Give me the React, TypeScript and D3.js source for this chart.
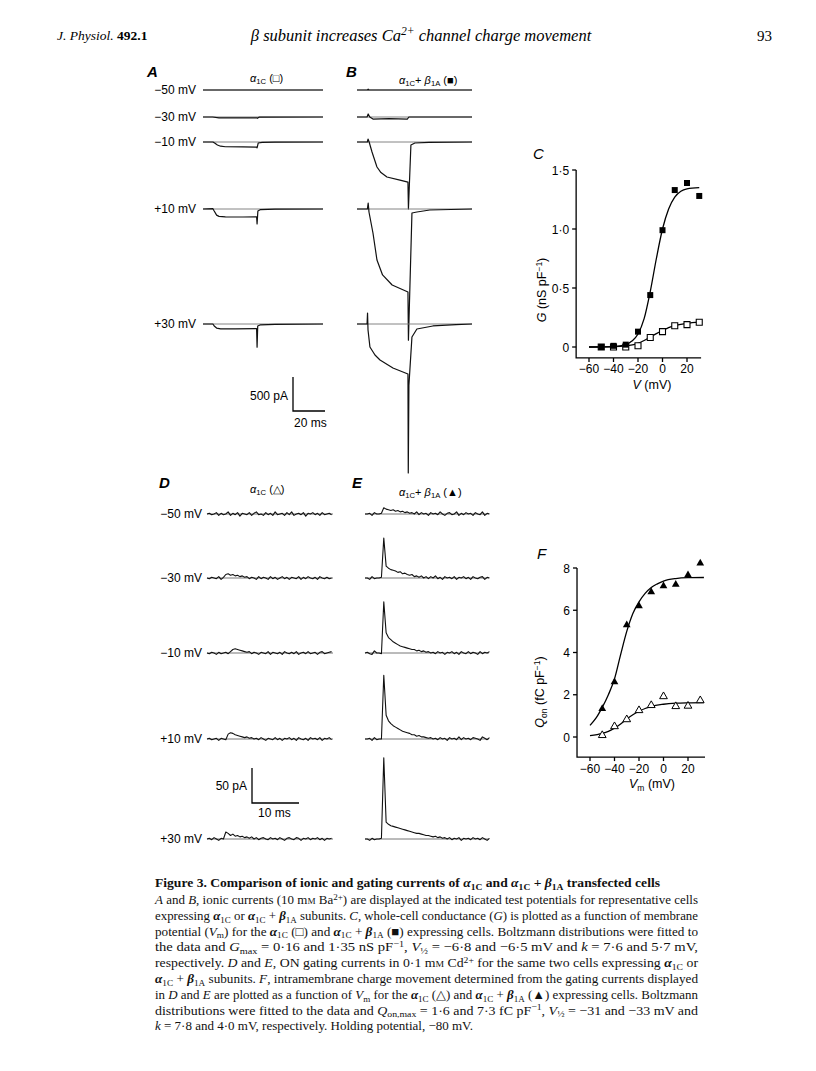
import * as d3 from "d3";

const SANS = "'Liberation Sans', Arial, Helvetica, sans-serif";
const SERIF = "'Liberation Serif', 'Times New Roman', serif";

// ---------- panels A & B: ionic currents, [time ms, current pA] ----------
const rowLabels = ["−50 mV", "−30 mV", "−10 mV", "+10 mV", "+30 mV"];

const ionicA: [number, number][][] = [
  [[0, 0], [75, 0]],
  [[0, 0], [6, 0], [10, -12], [33.5, -12], [34, -20], [35, -3], [75, 0]],
  [[0, 0], [6.2, 0], [7.5, -20], [9, -45], [11, -62], [14, -70], [25, -72], [33.5, -75], [33.8, -85], [34.5, -15], [37, -5], [45, -2], [75, 0]],
  [[0, 0], [6.2, 5], [7, -30], [8.5, -90], [10, -108], [14, -115], [25, -118], [33.5, -115], [33.8, -220], [34.3, -30], [36, -8], [45, -3], [75, 0]],
  [[0, 0], [6.2, 0], [7, -30], [8.5, -60], [11, -72], [20, -72], [33.5, -68], [33.8, -340], [34.2, -30], [36, -12], [45, -5], [75, 0]],
];

const ionicB: [number, number][][] = [
  [[0, 0], [6.5, 0], [7, 12], [7.5, 0], [72, 0]],
  [[0, 0], [6.3, 0], [7, 45], [8, 0], [10, -30], [20, -25], [31.5, -30], [32.5, 0], [72, 0]],
  [[0, 0], [6.5, 0], [6.9, 44], [7.6, 0], [9.4, -147], [12.5, -368], [15, -450], [18.75, -515], [26.9, -560], [31.9, -590], [32.2, -985], [33.75, -44], [36.25, -15], [45, -5], [72, 0]],
  [[0, 0], [6.5, 0], [7, 88], [7.5, -44], [10, -353], [12.5, -750], [16, -970], [22, -1118], [31.9, -1220], [32.2, -1930], [34.4, -59], [37.5, -44], [45.6, -15], [72, 0]],
  [[0, 0], [6.3, 0], [6.6, 162], [6.9, -88], [8.1, -338], [11.25, -456], [14.4, -530], [22.5, -647], [31.9, -735], [32.1, -2190], [32.5, -900], [34.4, -191], [37.5, -74], [47.5, -29], [62, -10], [72, 0]],
];

// ---------- panels D & E: gating currents, pA sampled every 0.5 ms ----------
const GATE_DT = 0.5;
const gatingD: number[][] = [
  [0, 1, -1, 0, 2, -2, 1, -1, 0, 3, -2, 1, -1, 2, -3, 1, 0, -1, 2, -2, 1, 3, -1, 0, -2, 2, -1, 1, -2, 3, -1, 0, 1, -2, 2, -1, 3, -2, 0, 1, -1, 2, -3, 1, 0, 2, -1, 1, -2, 2, -1, 0, 1, -1],
  [0, -1, 1, 0, -1, 2, -2, 1, 5, 6, 4, 5, 3, 4, 2, 3, 1, 2, -1, 1, 0, -2, 2, -1, 1, 0, -2, 2, -1, 1, -2, 0, 2, -1, 1, -2, 1, 0, -1, 2, -2, 1, -1, 2, 0, -1, 1, -2, 2, 0, -1, 1, -1, 0],
  [0, -1, 1, 0, -2, 1, -1, 0, 1, -1, 2, 5, 6, 5, 4, 3, 2, 1, 2, -1, 1, 0, -2, 1, 0, -1, 2, -2, 1, 0, -1, 1, -2, 2, 0, -1, 1, -1, 2, -2, 0, 1, -1, 2, -1, 0, 1, -2, 1, 2, -1, 0, 1, 2],
  [0, 1, -1, 0, 1, -2, 1, 0, -1, 7, 9, 8, 6, 5, 4, 3, 2, 3, 1, 2, 0, 1, -1, 2, 0, -2, 1, 0, -1, 2, -1, 1, -2, 1, 0, 2, -1, 1, -2, 2, 0, -1, 1, -2, 2, 0, 1, -1, 2, -2, 1, 0, 2, -1],
  [0, 1, -1, 2, 0, -2, 1, 0, 10, 8, 5, 7, 4, 5, 3, 4, 2, 3, 1, 3, 0, 2, -1, 1, 2, 0, -1, 2, 0, 1, -1, 2, 0, -2, 1, 2, 0, -1, 2, 1, -2, 1, 0, 2, -1, 1, 0, 2, -1, 1, -2, 1, 0, 1],
];
const gatingE: number[][] = [
  [0, 0, 1, -2, 2, 0, 0, 1, 9, 7, 6, 5, 6, 4, 5, 3, 4, 2, 3, 1, 2, 0, 3, -1, 2, 0, 1, -2, 2, 0, 1, -1, 3, 0, -2, 1, 2, -1, 0, 3, -2, 1, -1, 2, 0, 1, -2, 2, 0, -1, 3, -2, 1, 0],
  [0, 0, -2, 2, -1, 0, 0, 1, 57, 17, 14, 12, 11, 10, 8, 9, 6, 7, 5, 4, 5, 2, 3, 1, 3, 0, 2, -1, 2, 0, 3, -1, 1, -2, 2, 0, 1, -1, 2, -2, 1, 0, 2, -1, 1, -2, 2, 0, -1, 1, 2, -2, 1, 0],
  [0, 1, -1, -2, 3, 0, 0, -1, 73, 29, 22, 19, 16, 14, 12, 10, 9, 8, 7, 6, 5, 5, 3, 4, 2, 3, 1, 2, 0, 1, -1, 2, 0, 1, -2, 1, 0, 2, -1, 1, -2, 2, 0, -1, 2, -1, 1, 0, -2, 2, -1, 1, 0, 2],
  [0, 0, 1, -2, 2, -1, 0, 0, 91, 34, 26, 22, 19, 17, 15, 13, 11, 10, 9, 8, 6, 6, 4, 5, 3, 3, 2, 1, 2, 0, 1, -1, 2, 0, 1, -2, 2, 0, 1, -1, 3, -1, 2, 0, 1, -1, 2, 1, 0, -2, 3, 1, -1, 2],
  [0, 0, -2, 1, -1, 0, 0, 1, 116, 24, 21, 19, 18, 17, 16, 15, 14, 13, 12, 11, 10, 9, 8, 8, 7, 6, 5, 5, 4, 3, 4, 2, 3, 1, 2, 0, 2, -1, 1, 0, 2, -2, 1, 0, 1, -1, 2, 0, 1, -1, 2, 0, -2, 1],
];

// ---------- panel C: conductance ----------
const testVolts = [-50, -40, -30, -20, -10, 0, 10, 20, 30];
const gAlpha = [0, 0, 0, 0.01, 0.08, 0.13, 0.18, 0.19, 0.21];
const gAlphaBeta = [0, 0.01, 0.02, 0.13, 0.44, 0.99, 1.33, 1.39, 1.28];
const gFitAlpha: [number, number][] = [[-60, 0], [-40, 0.003], [-30, 0.01], [-20, 0.03], [-15, 0.055], [-10, 0.085], [-5, 0.113], [0, 0.14], [5, 0.165], [10, 0.182], [20, 0.2], [30, 0.21]];
const gFitAlphaBeta: [number, number][] = [[-60, 0], [-40, 0.004], [-30, 0.02], [-25, 0.05], [-20, 0.11], [-15, 0.24], [-10, 0.47], [-5, 0.75], [0, 1.0], [5, 1.17], [10, 1.27], [15, 1.32], [20, 1.34], [30, 1.35]];
const cXTicks = [-60, -40, -20, 0, 20];
const cYTicks = [0, 0.5, 1, 1.5];
const cYTickLabels = ["0", "0·5", "1·0", "1·5"];

// ---------- panel F: charge movement ----------
const qAlpha = [0.08, 0.5, 0.83, 1.26, 1.5, 1.92, 1.45, 1.47, 1.73];
const qAlphaBeta = [1.34, 2.6, 5.3, 6.2, 6.86, 7.15, 7.22, 7.67, 8.23];
const qFitAlpha: [number, number][] = [[-60, 0.06], [-50, 0.17], [-45, 0.27], [-40, 0.42], [-35, 0.62], [-30, 0.85], [-25, 1.05], [-20, 1.22], [-15, 1.35], [-10, 1.45], [0, 1.55], [10, 1.6], [20, 1.62], [33, 1.63]];
const qFitAlphaBeta: [number, number][] = [[-60, 0.55], [-55, 0.9], [-50, 1.4], [-45, 2.0], [-40, 2.75], [-35, 3.9], [-30, 5.0], [-25, 5.85], [-20, 6.4], [-15, 6.8], [-10, 7.08], [-5, 7.25], [0, 7.38], [10, 7.5], [20, 7.54], [33, 7.55]];
const fXTicks = [-60, -40, -20, 0, 20];
const fYTicks = [0, 2, 4, 6, 8];

// ---------- caption ----------
const captionTitle = "Figure 3. Comparison of ionic and gating currents of α_{1C} and α_{1C} + β_{1A} transfected cells";
const captionLines = [
  "*A* and *B*, ionic currents (10 m%{M} Ba^{2+}) are displayed at the indicated test potentials for representative cells",
  "expressing α_{1C} or α_{1C} + β_{1A} subunits. *C*, whole-cell conductance (*G*) is plotted as a function of membrane",
  "potential (*V*_{m}) for the α_{1C} (□) and α_{1C} + β_{1A} (■) expressing cells. Boltzmann distributions were fitted to",
  "the data and *G*_{max} = 0·16 and 1·35 nS pF^{−1}, *V*_{½} = −6·8 and −6·5 mV and *k* = 7·6 and 5·7 mV,",
  "respectively. *D* and *E*, ON gating currents in 0·1 m%{M} Cd^{2+} for the same two cells expressing α_{1C} or",
  "α_{1C} + β_{1A} subunits. *F*, intramembrane charge movement determined from the gating currents displayed",
  "in *D* and *E* are plotted as a function of *V*_{m} for the α_{1C} (△) and α_{1C} + β_{1A} (▲) expressing cells. Boltzmann",
  "distributions were fitted to the data and *Q*_{on,max} = 1·6 and 7·3 fC pF^{−1}, *V*_{½} = −31 and −33 mV and",
  "*k* = 7·8 and 4·0 mV, respectively. Holding potential, −80 mV.",
];

// layout
const ionicRowY = [90, 117, 142, 209, 324];
const gatingRowY = [514, 578, 653, 739, 839];

type Seg = { text: string; italic: boolean; shift?: "sub" | "sup"; small?: boolean; greek?: boolean };

// tiny markup: *italic*, _{sub}, ^{sup}, %{small}
function parseRich(s: string, baseItalic = false): Seg[] {
  const segs: Seg[] = [];
  let italic = baseItalic;
  let buf = "";
  const flush = () => {
    if (buf) segs.push({ text: buf, italic });
    buf = "";
  };
  for (let i = 0; i < s.length; i++) {
    const c = s[i];
    if (c === "*") { flush(); italic = !italic; continue; }
    if ((c === "_" || c === "^" || c === "%") && s[i + 1] === "{") {
      flush();
      const end = s.indexOf("}", i);
      segs.push({ text: s.slice(i + 2, end), italic: baseItalic, shift: c === "_" ? "sub" : c === "^" ? "sup" : undefined, small: true });
      i = end;
      continue;
    }
    if (c === "α" || c === "β") { flush(); segs.push({ text: c, italic: true, greek: true }); continue; }
    buf += c;
  }
  flush();
  return segs;
}

function Rich({ s, size, baseItalic = false, bold = false, greekBold = false }: { s: string; size: number; baseItalic?: boolean; bold?: boolean; greekBold?: boolean }) {
  const segs = parseRich(s, baseItalic);
  let cur = 0;
  return (
    <>
      {segs.map((g, k) => {
        const target = g.shift === "sub" ? size * 0.22 : g.shift === "sup" ? -size * 0.34 : 0;
        const dy = target - cur;
        cur = target;
        return (
          <tspan
            key={k}
            dy={dy || undefined}
            fontStyle={g.italic ? "italic" : "normal"}
            fontWeight={bold || (g.greek && greekBold) ? "bold" : "normal"}
            fontSize={g.small ? size * 0.7 : size}
          >
            {g.text}
          </tspan>
        );
      })}
    </>
  );
}

// ---------- scales ----------
const tA = d3.scaleLinear().domain([0, 75]).range([203, 323]);
const tB = d3.scaleLinear().domain([0, 72]).range([357, 472]);
const iAB = d3.scaleLinear().domain([0, -500]).range([0, 34]);
const tD = d3.scaleLinear().domain([0, 26.8]).range([207, 333]);
const tE = d3.scaleLinear().domain([0, 26.4]).range([365, 489]);
const iDE = d3.scaleLinear().domain([0, 50]).range([0, -35]);

const cx = d3.scaleLinear().domain([-60, 20]).range([589, 687]);
const cy = d3.scaleLinear().domain([0, 1.5]).range([347, 170]);
const fx = d3.scaleLinear().domain([-60, 20]).range([590, 688]);
const fy = d3.scaleLinear().domain([0, 8]).range([737, 568]);

const LABEL = 12;

function IonicPanel({ traces, t, labels }: { traces: [number, number][][]; t: d3.ScaleLinear<number, number>; labels: boolean }) {
  const [t0, t1] = t.domain();
  return (
    <g>
      {traces.map((tr, r) => {
        const base = ionicRowY[r];
        const line = d3.line<[number, number]>().x((d) => t(d[0])).y((d) => base + iAB(d[1]));
        return (
          <g key={r}>
            {labels && (
              <text x={196} y={base + 4} textAnchor="end" fontSize={LABEL} fontFamily={SANS}>{rowLabels[r]}</text>
            )}
            <line x1={t(t0)} x2={t(t1)} y1={base} y2={base} stroke="#777" strokeWidth={0.9} />
            <path d={line(tr) ?? ""} fill="none" stroke="#111" strokeWidth={1.2} strokeLinejoin="round" />
          </g>
        );
      })}
    </g>
  );
}

function GatingPanel({ traces, t, labels }: { traces: number[][]; t: d3.ScaleLinear<number, number>; labels: boolean }) {
  const [t0, t1] = t.domain();
  return (
    <g>
      {traces.map((tr, r) => {
        const base = gatingRowY[r];
        const line = d3.line<number>().x((_, i) => t(i * GATE_DT)).y((v) => base + iDE(v));
        return (
          <g key={r}>
            {labels && (
              <text x={202} y={base + 4} textAnchor="end" fontSize={LABEL} fontFamily={SANS}>{rowLabels[r]}</text>
            )}
            <line x1={t(t0)} x2={t(t1)} y1={base} y2={base} stroke="#666" strokeWidth={0.9} />
            <path d={line(tr) ?? ""} fill="none" stroke="#111" strokeWidth={1.1} strokeLinejoin="round" />
          </g>
        );
      })}
    </g>
  );
}

function Axes({ x, y, xMin, xMax, yMin, yMax, xTicks, yTicks, yTickLabels }: {
  x: d3.ScaleLinear<number, number>; y: d3.ScaleLinear<number, number>;
  xMin: number; xMax: number; yMin: number; yMax: number;
  xTicks: number[]; yTicks: number[]; yTickLabels: string[];
}) {
  const x0 = x(xMin), x1 = x(xMax), yb = y(yMin), yt = y(yMax);
  return (
    <g fontFamily={SANS} fontSize={LABEL}>
      <path d={`M${x0},${yt}V${yb}H${x1}`} fill="none" stroke="#000" strokeWidth={1.3} />
      {yTicks.map((v, i) => (
        <g key={"y" + i}>
          <line x1={x0 - 4} x2={x0} y1={y(v)} y2={y(v)} stroke="#000" strokeWidth={1.3} />
          <text x={x0 - 7} y={y(v) + 4.5} textAnchor="end">{yTickLabels[i]}</text>
        </g>
      ))}
      {xTicks.map((v, i) => (
        <g key={"x" + i}>
          <line x1={x(v)} x2={x(v)} y1={yb} y2={yb + 4} stroke="#000" strokeWidth={1.3} />
          <text x={x(v)} y={yb + 15.5} textAnchor="middle">{v < 0 ? "−" + Math.abs(v) : String(v)}</text>
        </g>
      ))}
    </g>
  );
}

export default function App() {
  const square = d3.symbol(d3.symbolSquare, 36)();
  const tri = d3.symbol(d3.symbolTriangle, 26)();
  const cLine = d3.line<[number, number]>().x((d) => cx(d[0])).y((d) => cy(d[1])).curve(d3.curveMonotoneX);
  const fLine = d3.line<[number, number]>().x((d) => fx(d[0])).y((d) => fy(d[1])).curve(d3.curveMonotoneX);
  const capLeft = 155, capRight = 698, capTop = 904, capStep = 15.8;

  return (
    <svg width={816} height={1071} style={{ position: "absolute", left: 0, top: 0, display: "block", background: "#fff" }}>
      {/* running head */}
      <text x={57} y={40} fontFamily={SERIF} fontSize={13.5} fontStyle="italic">
        J. Physiol. <tspan fontWeight="bold" fontStyle="normal">492.1</tspan>
      </text>
      <text x={421} y={41} textAnchor="middle" fontFamily={SERIF} fontSize={16.5}>
        <Rich s="β subunit increases Ca^{2+} channel charge movement" size={16.5} baseItalic />
      </text>
      <text x={772} y={41} textAnchor="end" fontFamily={SERIF} fontSize={15}>93</text>

      {/* A & B */}
      <g fontFamily={SANS}>
        <text x={147} y={77} fontSize={15} fontStyle="italic" fontWeight="bold">A</text>
        <text x={346} y={77} fontSize={15} fontStyle="italic" fontWeight="bold">B</text>
        <text x={250} y={82} fontSize={11}><Rich s="α_{1C} (□)" size={11} /></text>
        <text x={399} y={84} fontSize={11}><Rich s="α_{1C}+ β_{1A} (■)" size={11} /></text>
      </g>
      <IonicPanel traces={ionicA} t={tA} labels />
      <IonicPanel traces={ionicB} t={tB} labels={false} />
      <g>
        <path d={`M293,${411 - (iAB(-500) - iAB(0))}V411H${293 + tA(20) - tA(0)}`} fill="none" stroke="#000" strokeWidth={1.3} />
        <text x={288} y={400} textAnchor="end" fontSize={LABEL} fontFamily={SANS}>500 pA</text>
        <text x={294} y={427} fontSize={LABEL} fontFamily={SANS}>20 ms</text>
      </g>

      {/* C */}
      <text x={533} y={159} fontSize={15} fontStyle="italic" fontFamily={SANS}>C</text>
      <Axes x={cx} y={cy} xMin={-70.5} xMax={31.5} yMin={-0.093} yMax={1.5} xTicks={cXTicks} yTicks={cYTicks} yTickLabels={cYTickLabels} />
      <path d={cLine(gFitAlpha) ?? ""} fill="none" stroke="#000" strokeWidth={1.3} />
      <path d={cLine(gFitAlphaBeta) ?? ""} fill="none" stroke="#000" strokeWidth={1.3} />
      {testVolts.map((v, i) => (
        <path key={"co" + i} d={square ?? ""} transform={`translate(${cx(v)},${cy(gAlpha[i])})`} fill="#fff" stroke="#000" strokeWidth={1.1} />
      ))}
      {testVolts.map((v, i) => (
        <path key={"cf" + i} d={square ?? ""} transform={`translate(${cx(v)},${cy(gAlphaBeta[i])})`} fill="#000" />
      ))}
      <text transform="translate(546,290) rotate(-90)" textAnchor="middle" fontSize={12.5} fontFamily={SANS}>
        <tspan fontStyle="italic">G</tspan>{"  (nS pF"}<tspan dy={-4} fontSize={8.5}>−1</tspan><tspan dy={4}>)</tspan>
      </text>
      <text x={652} y={389} textAnchor="middle" fontSize={12.5} fontFamily={SANS}>
        <tspan fontStyle="italic">V</tspan> (mV)
      </text>

      {/* D & E */}
      <g fontFamily={SANS}>
        <text x={159} y={488} fontSize={15} fontStyle="italic" fontWeight="bold">D</text>
        <text x={352} y={488} fontSize={15} fontStyle="italic" fontWeight="bold">E</text>
        <text x={250} y={493} fontSize={11}><Rich s="α_{1C} (△)" size={11} /></text>
        <text x={399} y={496} fontSize={11}><Rich s="α_{1C}+ β_{1A} (▲)" size={11} /></text>
      </g>
      <GatingPanel traces={gatingD} t={tD} labels />
      <GatingPanel traces={gatingE} t={tE} labels={false} />
      <g>
        <path d={`M252,${803 + iDE(50)}V803H${252 + tD(10) - tD(0)}`} fill="none" stroke="#000" strokeWidth={1.3} />
        <text x={247} y={790} textAnchor="end" fontSize={LABEL} fontFamily={SANS}>50 pA</text>
        <text x={258} y={817} fontSize={LABEL} fontFamily={SANS}>10 ms</text>
      </g>

      {/* F */}
      <text x={537} y={559} fontSize={15} fontStyle="italic" fontFamily={SANS}>F</text>
      <Axes x={fx} y={fy} xMin={-70.6} xMax={33.9} yMin={-0.95} yMax={8} xTicks={fXTicks} yTicks={fYTicks} yTickLabels={fYTicks.map(String)} />
      <path d={fLine(qFitAlpha) ?? ""} fill="none" stroke="#000" strokeWidth={1.3} />
      <path d={fLine(qFitAlphaBeta) ?? ""} fill="none" stroke="#000" strokeWidth={1.3} />
      {testVolts.map((v, i) => (
        <path key={"fo" + i} d={tri ?? ""} transform={`translate(${fx(v)},${fy(qAlpha[i])})`} fill="#fff" stroke="#000" strokeWidth={1} />
      ))}
      {testVolts.map((v, i) => (
        <path key={"ff" + i} d={tri ?? ""} transform={`translate(${fx(v)},${fy(qAlphaBeta[i])})`} fill="#000" />
      ))}
      <text transform="translate(544,692) rotate(-90)" textAnchor="middle" fontSize={12.5} fontFamily={SANS}>
        <tspan fontStyle="italic">Q</tspan><tspan fontSize={8.5} dy={3}>on</tspan><tspan dy={-3}>{" (fC pF"}</tspan><tspan dy={-4} fontSize={8.5}>−1</tspan><tspan dy={4}>)</tspan>
      </text>
      <text x={652} y={788} textAnchor="middle" fontSize={12.5} fontFamily={SANS}>
        <tspan fontStyle="italic">V</tspan><tspan fontSize={8.5} dy={3}>m</tspan><tspan dy={-3}>{" (mV)"}</tspan>
      </text>

      {/* caption */}
      <g fontFamily={SERIF} fill="#111" style={{ whiteSpace: "pre" }}>
        <text x={capLeft} y={capTop - capStep - 1} fontSize={13} fontWeight="bold" textLength={505} lengthAdjust="spacingAndGlyphs">
          <Rich s={captionTitle} size={13} bold />
        </text>
        {captionLines.map((ln, i) => {
          const last = i === captionLines.length - 1;
          return (
            <text
              key={i}
              x={capLeft}
              y={capTop + i * capStep}
              fontSize={13}
              textLength={last ? undefined : capRight - capLeft}
              lengthAdjust="spacingAndGlyphs"
            >
              <Rich s={ln} size={13} greekBold />
            </text>
          );
        })}
      </g>
    </svg>
  );
}
